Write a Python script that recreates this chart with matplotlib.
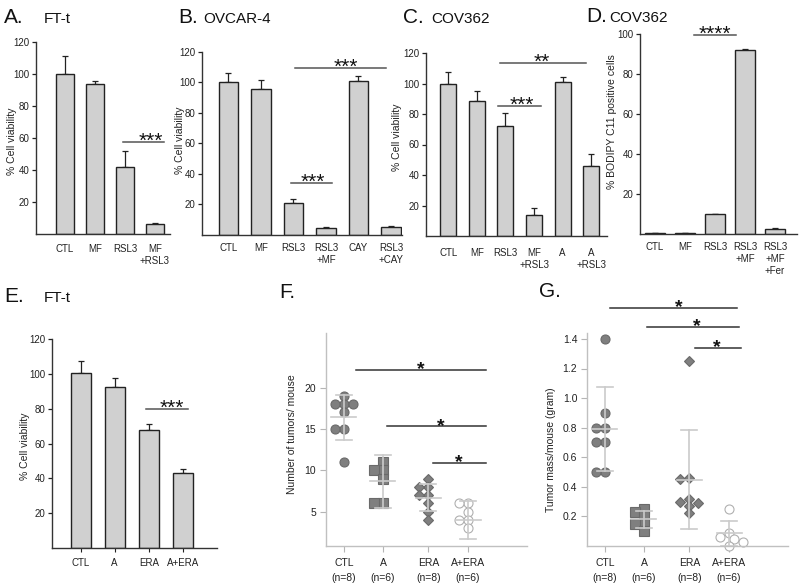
import matplotlib
matplotlib.use('Agg')
import matplotlib.pyplot as plt
import numpy as np

plt.rcParams['font.family'] = ['Liberation Sans', 'DejaVu Sans']

W, H = 800, 588

# ---- data ----
a_labels = ['CTL', 'MF', 'RSL3', 'MF\n+RSL3']
a_values = [100, 94, 42, 6]
a_errors = [11, 1.5, 10, 1]

b_labels = ['CTL', 'MF', 'RSL3', 'RSL3\n+MF', 'CAY', 'RSL3\n+CAY']
b_values = [100, 96, 21, 4.8, 101, 5.5]
b_errors = [6.5, 5.5, 2.6, 0.7, 3.5, 0.6]

c_labels = ['CTL', 'MF', 'RSL3', 'MF\n+RSL3', 'A', 'A\n+RSL3']
c_values = [100, 88.7, 72, 13.8, 101.2, 46]
c_errors = [7.7, 6.7, 8.9, 4.4, 3.3, 7.8]

d_labels = ['CTL', 'MF', 'RSL3', 'RSL3\n+MF', 'RSL3\n+MF\n+Fer']
d_values = [0.4, 0.3, 10, 92.2, 2.4]
d_errors = [0.1, 0.1, 0.2, 0.3, 0.4]

e_labels = ['CTL', 'A', 'ERA', 'A+ERA']
e_values = [100.3, 92.6, 67.7, 42.9]
e_errors = [7, 5.2, 3.3, 2.3]

grp_labels = ['CTL\n(n=8)', 'A\n(n=6)', 'ERA\n(n=8)', 'A+ERA\n(n=6)']

f_ctl = [19, 18, 18, 18, 17, 15, 15, 11]
f_a = [11, 10, 10, 9, 6, 6]
f_era = [9, 8, 8, 7, 7, 6, 5, 4]
f_aera = [6, 6, 5, 4, 4, 3]
f_means = [16.4, 8.7, 6.7, 4.0]
f_sds = [2.7, 3.2, 1.6, 2.3]

g_ctl = [1.4, 0.9, 0.8, 0.8, 0.7, 0.7, 0.5, 0.5]
g_a = [0.25, 0.23, 0.20, 0.15, 0.15, 0.10]
g_era = [1.25, 0.46, 0.45, 0.32, 0.30, 0.29, 0.27, 0.22]
g_aera = [0.25, 0.09, 0.06, 0.05, 0.03, 0.0]
g_means = [0.79, 0.18, 0.447, 0.087]
g_sds = [0.285, 0.06, 0.335, 0.085]

fig = plt.figure(figsize=(W / 100, H / 100), dpi=100)


def px_axes(x0, x1, ytop, ybot):
    return fig.add_axes([x0 / W, 1 - ybot / H, (x1 - x0) / W, (ybot - ytop) / H])


def set_ylabel_px(ax, text, xpx, ypx, size=7.5):
    ax.set_ylabel(text, fontsize=size, color='#222222')
    fx, fy = ax.transAxes.inverted().transform((xpx, H - ypx))
    ax.yaxis.set_label_coords(fx, fy)


def panel_letter(x, y, letter):
    fig.text(x / W, 1 - y / H, letter, fontsize=15, va='baseline', color='#111111')


def panel_title(x, y, letter, name, xname, name_size=11):
    panel_letter(x, y, letter)
    fig.text(xname / W, 1 - y / H, name, fontsize=name_size, va='baseline', color='#111111')


def sig(ax, x1, x2, y, stars, xs=None, size=15, color='#555555', bold=False, dy=-3.5):
    ax.plot([x1, x2], [y, y], color=color, lw=1.1, clip_on=False)
    xs = (x1 + x2) / 2 if xs is None else xs
    ax.annotate(stars, xy=(xs, y), xytext=(0, dy), textcoords='offset points',
                ha='center', va='baseline', fontsize=size, color='#111111',
                fontweight='bold' if bold else 'normal', annotation_clip=False)


def bar_panel(rect, labels, values, errors, ylim, yticks, xlim, width, pad, xticks_len=0):
    ax = px_axes(*rect)
    pos = np.arange(len(values))
    ax.bar(pos, values, width=width, color='#d0d0d0', edgecolor='#222222', linewidth=1.0, zorder=2)
    ax.errorbar(pos, values, yerr=[np.zeros(len(errors)), errors], fmt='none',
                ecolor='#222222', elinewidth=0.9, capsize=2.2, capthick=0.9, zorder=1)
    ax.set_xlim(*xlim)
    ax.set_ylim(*ylim)
    ax.set_yticks(yticks)
    ax.set_xticks(pos)
    ax.set_xticklabels(labels, fontsize=7, linespacing=1.25)
    ax.tick_params(axis='x', length=xticks_len, pad=pad, colors='#222222')
    ax.tick_params(axis='y', length=3, width=0.9, pad=1.5, labelsize=7, colors='#222222')
    for s in ['top', 'right']:
        ax.spines[s].set_visible(False)
    for s in ['left', 'bottom']:
        ax.spines[s].set_color('#333333')
        ax.spines[s].set_linewidth(1.0)
    return ax


def swarm_x(ax, xc, vals, diam_px):
    # simple beeswarm: keep markers from stacking fully on top of each other
    disp = ax.transData.transform(np.column_stack([np.full(len(vals), xc), vals]))
    placed = []
    out = []
    step = diam_px * 0.5
    for px, py in disp:
        k = 0
        found = None
        while found is None:
            cands = [px] if k == 0 else [px - k * step, px + k * step]
            for c in cands:
                if all(np.hypot(c - qx, py - qy) >= diam_px * 0.8 for qx, qy in placed):
                    found = c
                    break
            k += 1
        placed.append((found, py))
        out.append(found)
    back = ax.transData.inverted().transform(np.column_stack([out, disp[:, 1]]))
    return back[:, 0]


def dot_panel(rect, groups, means, sds, ylim, yticks, yticklabels, xlim, pos):
    ax = px_axes(*rect)
    ax.set_xlim(*xlim)
    ax.set_ylim(*ylim)
    styles = [
        dict(marker='o', ms=6.5, mfc='#7f7f7f', mec='#6a6a6a'),
        dict(marker='s', ms=6.5, mfc='#7f7f7f', mec='#6a6a6a'),
        dict(marker='D', ms=5, mfc='#7f7f7f', mec='#6a6a6a'),
        dict(marker='o', ms=6.5, mfc='white', mec='#b0b0b0'),
    ]
    for i, vals in enumerate(groups):
        xs = swarm_x(ax, pos[i], vals, 9.0)
        ax.plot(xs, vals, ls='none', mew=0.8, zorder=2, clip_on=False, **styles[i])
        m, s = means[i], sds[i]
        c = '#cbcbcb'
        ax.plot([pos[i], pos[i]], [max(m - s, ylim[0]), m + s], color=c, lw=1.2, zorder=3)
        ax.plot([pos[i] - 0.32, pos[i] + 0.32], [m, m], color=c, lw=1.2, zorder=3)
        for yy in (m - s, m + s):
            if yy > ylim[0]:
                ax.plot([pos[i] - 0.2, pos[i] + 0.2], [yy, yy], color=c, lw=1.2, zorder=3)
    ax.set_xticks(pos)
    ax.set_xticklabels(grp_labels, fontsize=7.5, linespacing=1.6)
    ax.set_yticks(yticks)
    ax.set_yticklabels(yticklabels)
    ax.tick_params(axis='both', length=4, width=0.8, color='#b5b5b5', labelsize=7.5, labelcolor='#222222')
    ax.tick_params(axis='x', pad=5)
    ax.tick_params(axis='y', pad=3)
    for s in ['top', 'right']:
        ax.spines[s].set_visible(False)
    for s in ['left', 'bottom']:
        ax.spines[s].set_color('#c0c0c0')
        ax.spines[s].set_linewidth(1.0)
    return ax


# ---- A ----
axA = bar_panel((36, 170, 42, 234), a_labels, a_values, a_errors, (0, 120),
                [20, 40, 60, 80, 100, 120], (-0.97, 3.5), 0.6, 7)
set_ylabel_px(axA, '% Cell viability', 17, 141)
sig(axA, 1.92, 3.31, 57.7, '***', xs=2.85)
panel_title(4, 23, 'A.', 'FT-t', 44)

# ---- B ----
axB = bar_panel((202, 402, 52, 235), b_labels, b_values, b_errors, (0, 120),
                [20, 40, 60, 80, 100, 120], (-0.81, 5.34), 0.6, 5.5)
set_ylabel_px(axB, '% Cell viability', 185, 140)
sig(axB, 2.04, 4.84, 109.3, '***', xs=3.6)
sig(axB, 1.92, 3.2, 34.3, '***', xs=2.6)
panel_title(178, 23, 'B.', 'OVCAR-4', 203)

# ---- C ----
axC = bar_panel((426, 607, 53, 236), c_labels, c_values, c_errors, (0, 120),
                [20, 40, 60, 80, 100, 120], (-0.78, 5.55), 0.56, 8.5)
set_ylabel_px(axC, '% Cell viability', 402, 137)
sig(axC, 1.81, 4.81, 113.2, '**', xs=3.26)
sig(axC, 1.75, 3.23, 85.2, '***', xs=2.57)
panel_title(403, 23, 'C.', 'COV362', 431)

# ---- D ----
axD = bar_panel((640, 797, 34, 234), d_labels, d_values, d_errors, (0, 100),
                [20, 40, 60, 80, 100], (-0.5, 4.73), 0.67, 5.5)
set_ylabel_px(axD, '% BODIPY C11 positive cells', 617, 122)
sig(axD, 1.3, 2.7, 99.5, '****', xs=2.0)
panel_title(586, 22, 'D.', 'COV362', 609)

# ---- E ----
axE = bar_panel((52, 217, 339, 548), e_labels, e_values, e_errors, (0, 120),
                [20, 40, 60, 80, 100, 120], (-0.84, 4.0), 0.59, 4, xticks_len=3)
set_ylabel_px(axE, '% Cell viability', 30, 446)
sig(axE, 1.93, 3.16, 79.6, '***', xs=2.67)
panel_title(4, 302, 'E.', 'FT-t', 44)

# ---- F ----
pos_fg = [1, 2, 3.16, 4.18]
axF = dot_panel((326, 527, 333, 546), [f_ctl, f_a, f_era, f_aera], f_means, f_sds,
                (0.85, 26.6), [5, 10, 15, 20], ['5', '10', '15', '20'], (0.54, 5.69), pos_fg)
set_ylabel_px(axF, 'Number of tumors/ mouse', 297, 434)
sig(axF, 1.31, 4.64, 22.1, '*', xs=2.97, size=14, color='#333333', bold=True, dy=-3)
sig(axF, 2.1, 4.64, 15.3, '*', xs=3.47, size=14, color='#333333', bold=True, dy=-3)
sig(axF, 3.28, 4.64, 10.9, '*', xs=3.93, size=14, color='#333333', bold=True, dy=-3)
panel_letter(279, 298, 'F.')

# ---- G ----
axG = dot_panel((587, 788, 333, 546), [g_ctl, g_a, g_era, g_aera], g_means, g_sds,
                (0.0, 1.44), [0.2, 0.4, 0.6, 0.8, 1.0, 1.2, 1.4],
                ['0.2', '0.4', '0.6', '0.8', '1.0', '1.2', '1.4'], (0.54, 5.69), pos_fg)
set_ylabel_px(axG, 'Tumor mass/mouse (gram)', 556, 450)
gx = lambda p: axG.transData.inverted().transform((p, 0))[0]
sig(axG, gx(610), gx(737), 1.61, '*', xs=gx(679), size=14, color='#333333', bold=True, dy=-3)
sig(axG, gx(647), gx(739), 1.48, '*', xs=gx(697), size=14, color='#333333', bold=True, dy=-3)
sig(axG, gx(695), gx(741), 1.34, '*', xs=gx(717), size=14, color='#333333', bold=True, dy=-3)
panel_letter(539, 297, 'G.')

fig.savefig('out.png', dpi=100, facecolor='white')
